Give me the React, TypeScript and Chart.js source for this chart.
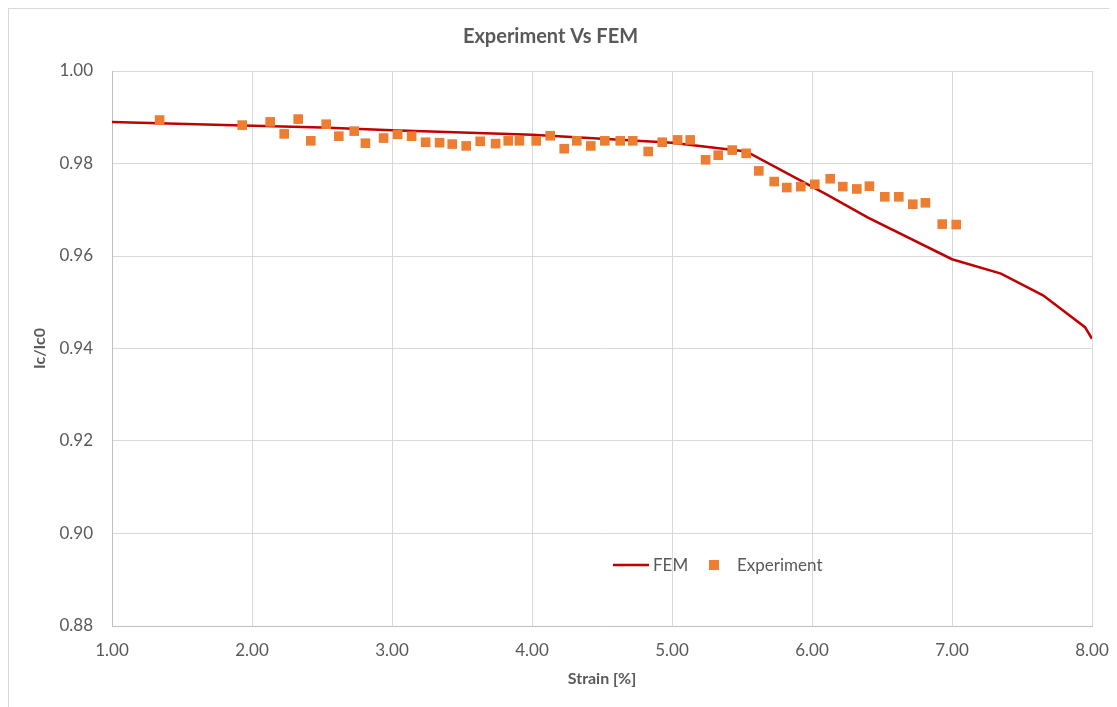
import { useEffect, useRef } from "react";
import { Chart, registerables } from "chart.js";

Chart.register(...registerables);

// FEM simulation curve: strain [%] vs normalised critical current
const femStrain = [1.0, 1.8, 2.5, 3.0, 4.0, 5.0, 5.53, 6.1, 6.4, 7.0, 7.35, 7.65, 7.95, 8.0];
const femIc = [0.989, 0.9883, 0.9878, 0.9872, 0.9862, 0.9845, 0.9826, 0.9734, 0.9683, 0.9593, 0.9562, 0.9515, 0.9446, 0.9421];

// Measured points
const expStrain = [
  1.34, 1.93, 2.13, 2.23, 2.33, 2.42, 2.53, 2.62, 2.73, 2.81,
  2.94, 3.04, 3.14, 3.24, 3.34, 3.43, 3.53, 3.63, 3.74, 3.83,
  3.91, 4.03, 4.13, 4.23, 4.32, 4.42, 4.52, 4.63, 4.72, 4.83,
  4.93, 5.04, 5.13, 5.24, 5.33, 5.43, 5.53, 5.62, 5.73, 5.82,
  5.92, 6.02, 6.13, 6.22, 6.32, 6.41, 6.52, 6.62, 6.72, 6.81,
  6.93, 7.03,
];
const expIc = [
  0.9894, 0.9883, 0.989, 0.9864, 0.9896, 0.9849, 0.9885, 0.9859, 0.987, 0.9844,
  0.9855, 0.9863, 0.9859, 0.9846, 0.9845, 0.9842, 0.9838, 0.9848, 0.9843, 0.9849,
  0.9849, 0.9849, 0.986, 0.9832, 0.9849, 0.9838, 0.9849, 0.9849, 0.9849, 0.9826,
  0.9846, 0.9851, 0.9851, 0.9808, 0.9818, 0.9829, 0.9822, 0.9784, 0.9761, 0.9748,
  0.975, 0.9755, 0.9767, 0.975, 0.9745, 0.9751, 0.9728, 0.9728, 0.9712, 0.9715,
  0.9669, 0.9668,
];

const TITLE = "Experiment Vs FEM";
const X_TITLE = "Strain [%]";
const Y_TITLE = "Ic/Ic0";
const SERIES_NAMES = ["FEM", "Experiment"];

const FEM_COLOR = "#C00000";
const EXP_COLOR = "#ED7D31";
const TEXT_COLOR = "#595959";
const GRID_COLOR = "#d9d9d9";
const FONT = "Lato, 'Open Sans', sans-serif";

const W = 1108;
const H = 698;

// Legend drawn inside the plot area, near the bottom
const insideLegend = {
  id: "insideLegend",
  afterDraw(chart: any) {
    const { ctx, chartArea } = chart;
    const y = chartArea.bottom - 61;
    const x0 = chartArea.left + 501;
    ctx.save();
    ctx.strokeStyle = FEM_COLOR;
    ctx.lineWidth = 2.5;
    ctx.beginPath();
    ctx.moveTo(x0, y);
    ctx.lineTo(x0 + 36, y);
    ctx.stroke();
    ctx.font = `17px ${FONT}`;
    ctx.fillStyle = TEXT_COLOR;
    ctx.textBaseline = "middle";
    ctx.textAlign = "left";
    ctx.fillText(chart.data.datasets[1].label, x0 + 40, y + 1);
    ctx.fillStyle = EXP_COLOR;
    ctx.fillRect(x0 + 96, y - 5, 10, 10);
    ctx.fillStyle = TEXT_COLOR;
    ctx.fillText(chart.data.datasets[0].label, x0 + 124, y + 1);
    ctx.restore();
  },
};

export default function App() {
  const canvasRef = useRef<HTMLCanvasElement | null>(null);

  useEffect(() => {
    document.body.style.overflow = "hidden";
    document.documentElement.style.overflow = "hidden";
    const canvas = canvasRef.current;
    if (!canvas) return;
    const chart = new Chart(canvas, {
      type: "scatter",
      data: {
        datasets: [
          {
            label: SERIES_NAMES[1],
            data: expStrain.map((x, i) => ({ x, y: expIc[i] })),
            pointStyle: "rect",
            pointRadius: 6.8,
            pointHoverRadius: 6.8,
            backgroundColor: EXP_COLOR,
            borderWidth: 0,
            showLine: false,
            order: 0,
          },
          {
            label: SERIES_NAMES[0],
            data: femStrain.map((x, i) => ({ x, y: femIc[i] })),
            showLine: true,
            borderColor: FEM_COLOR,
            borderWidth: 2.5,
            pointRadius: 0,
            pointHoverRadius: 0,
            tension: 0,
            order: 1,
          },
        ],
      },
      options: {
        responsive: false,
        animation: false,
        layout: { padding: { left: 0, right: 25, top: 0, bottom: 0 } },
        plugins: {
          legend: { display: false },
          tooltip: { enabled: false },
          title: {
            display: true,
            text: TITLE,
            color: TEXT_COLOR,
            font: { family: FONT, size: 20, weight: "bold" },
            padding: { top: 16, bottom: 22 },
          },
        },
        scales: {
          x: {
            type: "linear",
            min: 1,
            max: 8,
            afterFit: (s: any) => {
              s.height = 81;
              s.paddingLeft = 0;
              s.paddingRight = 0;
            },
            ticks: {
              stepSize: 1,
              padding: 14,
              color: TEXT_COLOR,
              font: { family: FONT, size: 17 },
              callback: (v: any) => Number(v).toFixed(2),
            },
            grid: { color: GRID_COLOR, lineWidth: 1, drawTicks: false },
            border: { color: "#bfbfbf", width: 1 },
            title: {
              display: true,
              text: X_TITLE,
              color: TEXT_COLOR,
              font: { family: FONT, size: 16, weight: "bold" },
              padding: { top: 0, bottom: 19 },
            },
          },
          y: {
            type: "linear",
            min: 0.88,
            max: 1.0,
            afterFit: (s: any) => {
              s.width = 103;
              s.paddingTop = 0;
              s.paddingBottom = 0;
            },
            ticks: {
              stepSize: 0.02,
              padding: 19,
              color: TEXT_COLOR,
              font: { family: FONT, size: 17 },
              callback: (v: any) => Number(v).toFixed(2),
            },
            grid: { color: GRID_COLOR, lineWidth: 1, drawTicks: false },
            border: { color: "#bfbfbf", width: 1 },
            title: {
              display: true,
              text: Y_TITLE,
              color: TEXT_COLOR,
              font: { family: FONT, size: 16, weight: "bold" },
              padding: { top: 21, bottom: 0 },
            },
          },
        },
      },
      plugins: [insideLegend],
    });
    return () => chart.destroy();
  }, []);

  return (
    <div
      style={{
        width: W + 1,
        height: H + 1,
        borderLeft: "1px solid #d9d9d9",
        borderTop: "1px solid #d9d9d9",
        boxSizing: "border-box",
        background: "#fff",
      }}
    >
      <canvas ref={canvasRef} width={W} height={H} style={{ width: W, height: H, display: "block" }} />
    </div>
  );
}
